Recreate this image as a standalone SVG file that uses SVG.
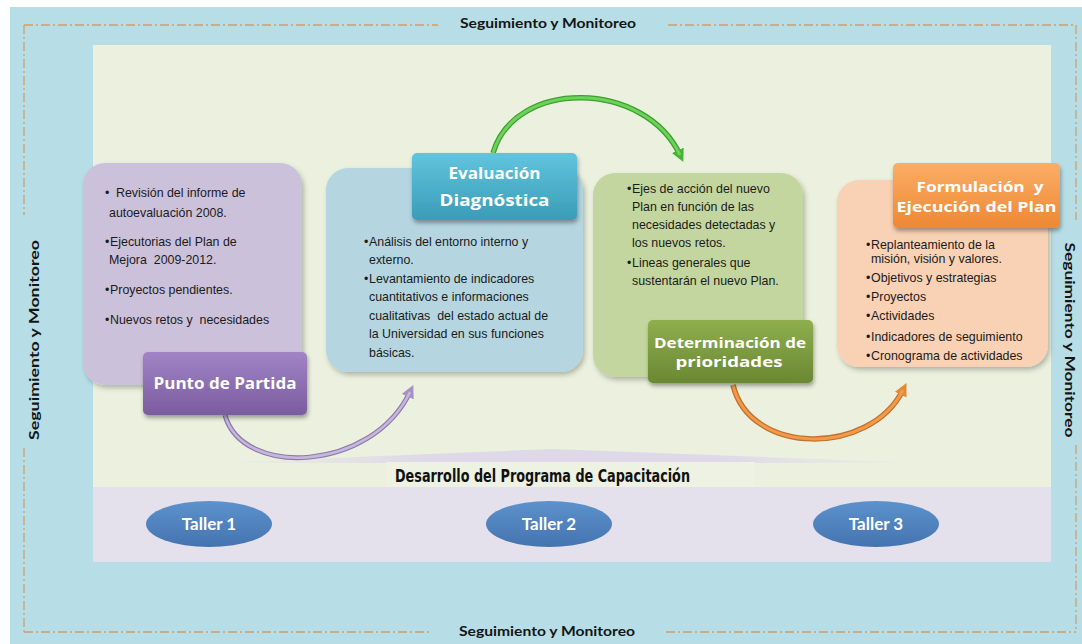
<svg xmlns="http://www.w3.org/2000/svg" width="1082" height="644" viewBox="0 0 1082 644">
<defs>
<style>
.bul{font-family:"Liberation Sans",Arial,sans-serif;font-size:12.4px;fill:#1b1b1b}
.lbl{font-family:"Open Sans","Lato",sans-serif;font-weight:700;font-size:15.5px;fill:#ffffff;text-anchor:middle}
.lb2{font-family:"Open Sans","Lato",sans-serif;font-weight:700;font-size:14px;fill:#ffffff;text-anchor:middle}
.side{font-family:"Lato","Open Sans",sans-serif;font-weight:700;font-size:14px;fill:#151515;text-anchor:middle}
.tal{font-family:"Lato","Liberation Sans",sans-serif;font-weight:700;font-size:17px;fill:#ffffff;text-anchor:middle}
.dash{fill:none;stroke:#cf9f6c;stroke-width:1.3;stroke-dasharray:9 3 2 3}
.box{filter:url(#sh)}
.tag{filter:url(#sh2)}
</style>
<filter id="sh" x="-10%" y="-10%" width="125%" height="130%"><feDropShadow dx="2" dy="3" stdDeviation="2.5" flood-color="#000" flood-opacity="0.25"/></filter>
<filter id="sh2" x="-10%" y="-10%" width="125%" height="140%"><feDropShadow dx="1" dy="3" stdDeviation="2" flood-color="#000" flood-opacity="0.35"/></filter>
<linearGradient id="gP" x1="0" y1="0" x2="0" y2="1"><stop offset="0" stop-color="#a084c6"/><stop offset="1" stop-color="#7a5c9f"/></linearGradient>
<linearGradient id="gB" x1="0" y1="0" x2="0" y2="1"><stop offset="0" stop-color="#62c4dd"/><stop offset="1" stop-color="#3a9cb7"/></linearGradient>
<linearGradient id="gG" x1="0" y1="0" x2="0" y2="1"><stop offset="0" stop-color="#8fae4e"/><stop offset="1" stop-color="#6a8832"/></linearGradient>
<linearGradient id="gO" x1="0" y1="0" x2="0" y2="1"><stop offset="0" stop-color="#fbad66"/><stop offset="1" stop-color="#ee8834"/></linearGradient>
<linearGradient id="gE" x1="0" y1="0" x2="0" y2="1"><stop offset="0" stop-color="#5d92cc"/><stop offset="1" stop-color="#4474b0"/></linearGradient>
<linearGradient id="gR" x1="0" y1="0" x2="1" y2="0"><stop offset="0" stop-color="#e2dcea" stop-opacity="0"/><stop offset="0.3" stop-color="#ded8e8"/><stop offset="0.7" stop-color="#ded8e8"/><stop offset="1" stop-color="#e2dcea" stop-opacity="0"/></linearGradient>
<marker id="mP" viewBox="0 0 10 10" refX="4" refY="5" markerWidth="13" markerHeight="13" markerUnits="userSpaceOnUse" orient="auto"><path d="M0,0 L10,5 L0,10 z" fill="#a591c6"/></marker>
<marker id="mG" viewBox="0 0 10 10" refX="4" refY="5" markerWidth="13" markerHeight="13" markerUnits="userSpaceOnUse" orient="auto"><path d="M0,0 L10,5 L0,10 z" fill="#47b236"/></marker>
<marker id="mO" viewBox="0 0 10 10" refX="4" refY="5" markerWidth="13" markerHeight="13" markerUnits="userSpaceOnUse" orient="auto"><path d="M0,0 L10,5 L0,10 z" fill="#e48a34"/></marker>
</defs>

<g id="background">
<rect x="0" y="0" width="1082" height="644" fill="#ffffff"/>
<rect x="10" y="7" width="1072" height="637" fill="#b7dee7"/>
<rect x="93" y="45" width="958" height="517" fill="#ebf1de"/>
<polygon points="214,463 552,449 925,463" fill="url(#gR)"/>
<rect x="93" y="487" width="958" height="75" fill="#e4e0ec"/>
<rect x="386" y="462" width="369" height="25" fill="#eef2e3"/>
</g>

<g id="monitoring-frame">
<path class="dash" d="M24,25 H438 M668,25 H1076 M24,25 V215 M24,448 V632 M1076,25 V220 M1076,445 V632 M24,632 H432 M666,632 H1076"/>
<text class="side" x="548" y="28" textLength="176" lengthAdjust="spacingAndGlyphs">Seguimiento y Monitoreo</text>
<text class="side" x="547" y="636" textLength="176" lengthAdjust="spacingAndGlyphs">Seguimiento y Monitoreo</text>
<text class="side" transform="translate(39,340) rotate(-90)" x="0" y="0" textLength="200" lengthAdjust="spacingAndGlyphs">Seguimiento y Monitoreo</text>
<text class="side" transform="translate(1065,340) rotate(90)" x="0" y="0" textLength="195" lengthAdjust="spacingAndGlyphs">Seguimiento y Monitoreo</text>
</g>

<g id="connectors">
<path d="M225,415 C242,478 372,472 410,392" fill="none" stroke="#8e7aae" stroke-width="5" marker-end="url(#mP)"/>
<path d="M225,415 C242,478 372,472 410,392" fill="none" stroke="#c6b8dc" stroke-width="2.6"/>
<path d="M493,153 C515,78 645,80 680,155" fill="none" stroke="#3f9e2e" stroke-width="5.5" marker-end="url(#mG)"/>
<path d="M493,153 C515,78 645,80 680,155" fill="none" stroke="#6ad45a" stroke-width="3"/>
<path d="M733,385 C750,456 870,456 903,390" fill="none" stroke="#c4702a" stroke-width="5.5" marker-end="url(#mO)"/>
<path d="M733,385 C750,456 870,456 903,390" fill="none" stroke="#f29a4c" stroke-width="3"/>
</g>

<g id="punto-de-partida">
<rect class="box" x="83" y="163" width="219" height="222" rx="22" fill="#cbc1da"/>
<text class="bul" x="105" y="197">• <tspan x="116">Revisión del informe de</tspan></text>
<text class="bul" x="109" y="217">autoevaluación 2008.</text>
<text class="bul" x="105" y="246">•<tspan x="110">Ejecutorias del Plan de</tspan></text>
<text class="bul" x="109" y="264" xml:space="preserve">Mejora  2009-2012.</text>
<text class="bul" x="105" y="294">•<tspan x="110">Proyectos pendientes.</tspan></text>
<text class="bul" x="105" y="324" xml:space="preserve">•<tspan x="110">Nuevos retos y  necesidades</tspan></text>
<rect class="tag" x="143" y="352" width="164" height="63" rx="5" fill="url(#gP)"/>
<text class="lbl" x="225" y="389" textLength="143" lengthAdjust="spacingAndGlyphs">Punto de Partida</text>
</g>

<g id="evaluacion-diagnostica">
<rect class="box" x="326" y="168" width="257" height="204" rx="22" fill="#b5d6e0"/>
<text class="bul" x="364" y="246">•<tspan x="369">Análisis del entorno interno y</tspan></text>
<text class="bul" x="369" y="264">externo.</text>
<text class="bul" x="364" y="283">•<tspan x="369">Levantamiento de indicadores</tspan></text>
<text class="bul" x="369" y="301">cuantitativos e informaciones</text>
<text class="bul" x="369" y="320" xml:space="preserve">cualitativas  del estado actual de</text>
<text class="bul" x="369" y="338">la Universidad en sus funciones</text>
<text class="bul" x="369" y="357">básicas.</text>
<rect class="tag" x="412" y="153" width="165" height="67" rx="5" fill="url(#gB)"/>
<text class="lbl" x="494.5" y="179" textLength="92" lengthAdjust="spacingAndGlyphs">Evaluación</text>
<text class="lbl" x="494.5" y="206" textLength="110" lengthAdjust="spacingAndGlyphs">Diagnóstica</text>
</g>

<g id="determinacion-de-prioridades">
<rect class="box" x="593" y="173" width="210" height="204" rx="22" fill="#c4d69f"/>
<text class="bul" x="627" y="193">•<tspan x="632">Ejes de acción del nuevo</tspan></text>
<text class="bul" x="632" y="211">Plan en función de las</text>
<text class="bul" x="632" y="229">necesidades detectadas y</text>
<text class="bul" x="632" y="247">los nuevos retos.</text>
<text class="bul" x="627" y="267">•<tspan x="632">Lineas generales que</tspan></text>
<text class="bul" x="632" y="285">sustentarán el nuevo Plan.</text>
<rect class="tag" x="648" y="320" width="165" height="63" rx="5" fill="url(#gG)"/>
<text class="lb2" x="730" y="348" textLength="152" lengthAdjust="spacingAndGlyphs">Determinación de</text>
<text class="lb2" x="729" y="367" textLength="107" lengthAdjust="spacingAndGlyphs">prioridades</text>
</g>

<g id="formulacion-ejecucion">
<rect class="box" x="837" y="180" width="211" height="187" rx="22" fill="#f9d1b5"/>
<text class="bul" x="866" y="249">•<tspan x="871">Replanteamiento de la</tspan></text>
<text class="bul" x="871" y="263">misión, visión y valores.</text>
<text class="bul" x="866" y="282">•<tspan x="871">Objetivos y estrategias</tspan></text>
<text class="bul" x="866" y="301">•<tspan x="871">Proyectos</tspan></text>
<text class="bul" x="866" y="320">•<tspan x="871">Actividades</tspan></text>
<text class="bul" x="866" y="341">•<tspan x="871">Indicadores de seguimiento</tspan></text>
<text class="bul" x="866" y="360">•<tspan x="871">Cronograma de actividades</tspan></text>
<rect class="tag" x="893" y="163" width="167" height="65" rx="5" fill="url(#gO)"/>
<text class="lb2" x="980" y="192" textLength="127" lengthAdjust="spacingAndGlyphs" xml:space="preserve">Formulación  y</text>
<text class="lb2" x="976.5" y="212" textLength="160" lengthAdjust="spacingAndGlyphs">Ejecución del Plan</text>
</g>

<g id="capacitacion">
<text x="542.5" y="482" font-family="'DejaVu Sans',sans-serif" font-weight="700" font-size="17" fill="#111" text-anchor="middle" textLength="295" lengthAdjust="spacingAndGlyphs">Desarrollo del Programa de Capacitación</text>
</g>

<g id="taller-1">
<ellipse cx="209" cy="524" rx="63" ry="23" fill="url(#gE)"/>
<text class="tal" x="209" y="530">Taller 1</text>
</g>
<g id="taller-2">
<ellipse cx="549" cy="524" rx="63" ry="23" fill="url(#gE)"/>
<text class="tal" x="549" y="530">Taller 2</text>
</g>
<g id="taller-3">
<ellipse cx="876" cy="524" rx="63" ry="23" fill="url(#gE)"/>
<text class="tal" x="876" y="530">Taller 3</text>
</g>
</svg>
